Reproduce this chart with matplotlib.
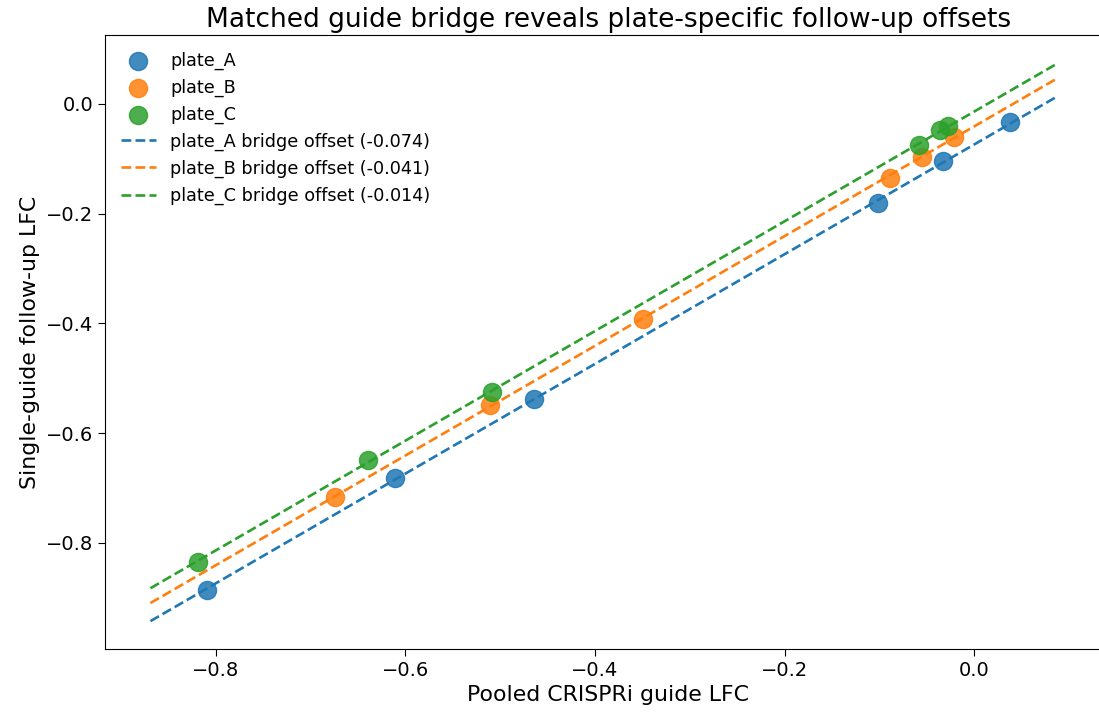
import numpy as np
import matplotlib
matplotlib.use("Agg")
import matplotlib.pyplot as plt

PLATES  = ["plate_A", "plate_B", "plate_C"]
COLORS  = ["#1f77b4", "#ff7f0e", "#2ca02c"]
OFFSETS = [-0.074, -0.041, -0.014]

# pooled LFC (x) and single-guide follow-up LFC (y), read per plate
POOLED_A = [-0.809, -0.611, -0.464, -0.102, -0.033, 0.038]
FOLLOW_A = [-0.886, -0.682, -0.538, -0.180, -0.105, -0.033]
POOLED_B = [-0.674, -0.511, -0.349, -0.089, -0.055, -0.021]
FOLLOW_B = [-0.717, -0.549, -0.392, -0.136, -0.096, -0.061]
POOLED_C = [-0.819, -0.640, -0.509, -0.058, -0.036, -0.028]
FOLLOW_C = [-0.836, -0.650, -0.525, -0.075, -0.047, -0.041]

POOLED = [POOLED_A, POOLED_B, POOLED_C]
FOLLOW = [FOLLOW_A, FOLLOW_B, FOLLOW_C]

fig = plt.figure(figsize=(10.99, 7.17), dpi=100)
ax = fig.add_axes([0.0955, 0.0948, 0.916, 0.8558])

for name, color, xs, ys in zip(PLATES, COLORS, POOLED, FOLLOW):
    ax.scatter(xs, ys, s=170, color=color, alpha=0.85, label=name, zorder=3)

all_x = np.concatenate([np.asarray(v) for v in POOLED])
grid = np.linspace(all_x.min() - 0.05, all_x.max() + 0.05, 50)
for name, color, off in zip(PLATES, COLORS, OFFSETS):
    ax.plot(grid, grid + off, linestyle="--", color=color, linewidth=1.9,
            label=f"{name} bridge offset ({off:.3f})")

# right spine sits just past the figure edge, as in the source image
ax.set_xlim(-0.917, 0.145)
ax.set_title("Matched guide bridge reveals plate-specific follow-up offsets", fontsize=19)
ax.set_xlabel("Pooled CRISPRi guide LFC", fontsize=15.8)
ax.set_ylabel("Single-guide follow-up LFC", fontsize=15.8)
ax.tick_params(labelsize=14, length=5)
ax.legend(loc="upper left", frameon=False, fontsize=12.7)

fig.savefig("out.png", dpi=100)
